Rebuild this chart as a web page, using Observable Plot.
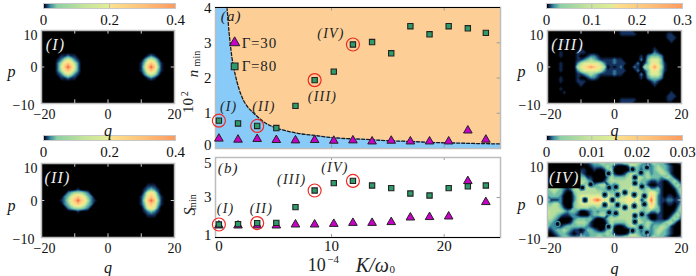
<!DOCTYPE html>
<html><head><meta charset="utf-8">
<script src="https://cdn.jsdelivr.net/npm/d3@7"></script>
<script src="https://cdn.jsdelivr.net/npm/@observablehq/plot@0.6"></script>
<style>html,body{margin:0;padding:0;background:#fff}#c{position:relative;width:696px;height:276px;overflow:hidden}
#c svg{position:absolute;overflow:visible}</style></head><body><div id="c"></div>
<script>
const K = [0,1.7,3.4,5.1,6.8,8.5,10.2,11.9,13.6,15.3,17,18.7,20.4,22.1,23.7];
const nSquare = [.79,.71,.64,.58,1.21,1.94,2.18,2.95,3.02,2.7,3.47,3.24,3.47,3.41,3.28];
const nTriangle = [.28,.25,.27,.24,.23,.24,.22,.23,.2,.22,.2,.2,.2,.51,.25];
const sSquare = [1.65,1.67,1.72,1.73,2.52,3.35,3.72,3.83,3.6,3.47,3.2,3.1,3.47,3.56,3.6];
const sTriangle = [1.6,1.6,1.6,1.6,1.65,1.65,1.68,1.73,1.73,1.77,2.0,2.02,2.05,3.82,2.77];
const circled = [0,2,5,7];
const curveK = [.72,.8,.9,1,1.15,1.33,1.6,2,2.5,3,3.5,4,5.1,6,7,8.5,10,11.4,13,15,17,19,21,23,25];
const curveN = [4,3.7,3.3,3,2.6,2.28,1.9,1.5,1.2,1.03,.88,.75,.58,.5,.43,.37,.31,.28,.26,.22,.2,.17,.155,.14,.13];

const levelColors = ["#000000","#14305e","#3a8ca0","#7fc9a8","#b5dd9e","#e2ee95","#fde08c","#fdc27a","#fd9a5f","#ee4a32"];
const barDomain = [0,.02,.05,.1,.3,.49,.51,.75,1];
const barColors = ["#000000","#14305e","#3a8ca0","#8ccfa6","#c4e39b","#e2ee95","#fde08c","#fdc27a","#fd9a5f"];
const contourSteps = d3.range(.2, 9.5, .2);

const gridI = [
"0","0","0","0","0","0","0",
"0000 001121100 0000000000000000 000121",
"0000 012454210 0000000000000000 002454200",
"0000 024676420 0000000000000000 013676310",
"0000 025797520 0000000000000000 014797410",
"0000 024676420 0000000000000000 013676310",
"0000 012454210 0000000000000000 002454200",
"0000 001121100 0000000000000000 000121",
"0","0","0","0","0","0","0"];
const gridII = [
"0","0","0","0","0","0",
"000000 00000000000 000000000000 000111",
"000000 00000100000 000000000000 001232100",
"000000 00234443200 000000000000 002565200",
"000000 02356765320 000000000000 013676310",
"000000 12467976421 000000000000 014797410",
"000000 02356765320 000000000000 013676310",
"000000 00234443200 000000000000 002565200",
"000000 00000100000 000000000000 001232100",
"000000 00000000000 000000000000 000111",
"0","0","0","0","0","0"];
const gridIII = [
"0000000000 0000000000 0011110000 0000000000 0",
"0000000000 0000000000 0011111000 0000001100 0",
"0000000000 0000000000 0000000000 0000001110 0",
"0000010000 0000000000 0000000000 0000000100 0",
"0000100000 0000000000 0000000000 0000000000 0",
"0000000000 1000000000 0000000000 0010000000 0",
"0000100001 1100000000 0000000000 0021000000 0",
"0000100001 0012210000 0000000010 2333200000 0",
"0000000001 1234321111 2110000020 3555300000 0",
"0000100002 4555554211 2111000201 3565310000 0",
"0000100004 5678765401 0120002104 4686410000 0",
"0000100002 4555554211 2111000201 3565310000 0",
"0000000001 1234321111 2110000020 3555300000 0",
"0000100001 0012210000 0000000010 2333200000 0",
"0000100001 1100000000 0000000000 0121000000 0",
"0000000000 1000000000 0000000000 0010000000 0",
"0000100000 0000000000 0000000000 0000000000 0",
"0000010000 0000000000 0000000000 0000000100 0",
"0000000000 0000000000 0000000000 0000001110 0",
"0000000000 0000000000 0011111000 0000001100 0",
"0000000000 0000000000 0011110000 0000000000 0"];
const gridIV = [
"0000000000 0112334434 3334444432 1343321001 2",
"0000000000 0001222343 1000144323 1234332100 0",
"0000000000 1100100134 0000012313 3234432100 0",
"0000000000 2100000034 1001344313 4233443100 0",
"0000000000 3311000024 3333441443 4333234310 0",
"0000000000 4432000134 4444442433 2112101342 0",
"0000000000 4340234413 1344444413 1001100134 2",
"3444321244 1444433313 1344454433 4223100013 4",
"3343310034 4444444343 3441445443 4653100002 4",
"2333200024 5555555154 4144551541 4752101101 3",
"2111200024 5256897552 4455665513 5952112211 2",
"3344200034 5555555154 4144551541 4752101101 3",
"4444310034 4443343343 3341444443 4643100002 4",
"5444432332 0012323333 3444444433 4223100013 4",
"5443211221 0002334413 1344444413 1001100134 2",
"4432000023 3333100134 4444441433 2001101343 1",
"3320000134 4431000024 3333441443 4322234420 0",
"3221123333 3321000024 1001344313 4233443100 0",
"1123343211 0133210134 0000012313 3234432100 0",
"0012332101 1223333343 1000144323 1234332100 0",
"0001233222 3323344334 3334444432 1343321001 2"];
// dark zeros of panel IV, read as q and p
const holeQ = [-8.8,-2.9,-2.9,-0.6,-1.6,0.4,0.9,0.9,-1.6,0.4,3.1,5.9,3.1,5.9,6.1,6.1,8.2,8.2,6.1,6.1,5.4,7.9,9.7,-7.1,-9.6,-17,7.9,5.4,9.7,-1.8,-1.8,8.9,8.9];
const holeP = [0,1.4,-1.3,0,3.3,3.5,1.4,-1.3,-3.3,-3.5,2,1.4,-2,-1.6,6,4.5,3.6,-3.8,-4.2,-5.8,8.2,7.3,8.7,4.2,3.3,-6.4,-7.3,-8.2,-8.7,7.1,-7.1,1.1,-1.1];

const font = "'Liberation Serif', serif";
const baseStyle = {fontFamily: font, background: "transparent", color: "#111", overflow: "visible"};
const axisFont = {fontFamily: font, fontVariant: "normal", fontSize: 14, label: null, tickSize: 0};
const frameGray = "#bdbdbd";
const tfmt = d => String(d).replace("-", "\u2212");
const c = document.getElementById("c");
function put(svg, left, top) { svg.style.left = left + "px"; svg.style.top = top + "px"; c.appendChild(svg); }
function parseGrid(rows) {
  return rows.flatMap(r => Array.from(r.replace(/\s/g, "").padEnd(41, "0").slice(0, 41)).map(Number));
}
function heat(o) {
  const W = o.x1 - o.x0, H = o.y1 - o.y0, ml = 41, mr = 18, mt = 10, mb = 38;
  const holes = o.holes ? holeQ.map((q, i) => ({q, p: holeP[i]})) : [];
  const marks = [
    Plot.frame({fill: "#000", stroke: null}),
    Plot.contour(parseGrid(o.grid), {width: 41, height: 21, x1: -20.5, x2: 20.5, y1: 10.5, y2: -10.5, clip: true,
      fill: Plot.identity, stroke: null, thresholds: contourSteps}),
    Plot.dot(holes, {x: "q", y: "p", r: 3.2, fill: "#3a8ca0", ariaLabel: "holes"}),
    Plot.dot(holes, {x: "q", y: "p", r: 1.9, fill: "#050d1c", ariaLabel: "holes"}),
    ...(o.box ? [Plot.rect([{a: -20, b: -10, c: 3, d: 10}], {x1: "a", x2: "b", y1: "c", y2: "d", fill: "#000"})] : []),
    Plot.ruleX([-10, 0, 10], {y1: -10, y2: -9, stroke: "#ccc"}),
    Plot.ruleX([-10, 0, 10], {y1: 9, y2: 10, stroke: "#ccc"}),
    Plot.ruleY([0], {x1: -20, x2: -19, stroke: "#ccc"}),
    Plot.ruleY([0], {x1: 19, x2: 20, stroke: "#ccc"}),
    Plot.frame({stroke: frameGray, strokeWidth: 1.5}),
    Plot.axisX([-20], {...axisFont, tickPadding: o.xpad, tickFormat: tfmt, dx: 3}),
    Plot.axisX([0, 20], {...axisFont, tickPadding: o.xpad, tickFormat: tfmt}),
    Plot.axisY([10], {...axisFont, tickPadding: 4, tickFormat: tfmt, dy: 5}),
    Plot.axisY([0], {...axisFont, tickPadding: 4, tickFormat: tfmt, dy: o.p0dy}),
    Plot.axisY([-10], {...axisFont, tickPadding: 7, tickFormat: tfmt, dy: 2}),
    Plot.text([{x: 0, y: -10, t: "q"}], {x: "x", y: "y", text: "t", dy: o.qdy, fontStyle: "italic", fontSize: 16, fill: "#111"}),
    Plot.text([{x: -20, y: 0, t: "p"}], {x: "x", y: "y", text: "t", dx: o.pdx, dy: 5, fontStyle: "italic", fontSize: 16, fill: "#111"}),
    Plot.text([{x: o.lq, y: 6, t: o.label}], {x: "x", y: "y", text: "t", fontStyle: "italic", fontSize: 16, fill: "#eee"})
  ];
  put(Plot.plot({width: W + ml + mr, height: H + mt + mb, marginLeft: ml, marginRight: mr, marginTop: mt, marginBottom: mb,
    x: {domain: [-20, 20], axis: null}, y: {domain: [-10, 10], axis: null},
    color: {type: "linear", domain: levelColors.map((_, i) => i), range: levelColors, clamp: true},
    style: baseStyle, marks}),
    o.x0 - ml, o.y0 - mt);
}
const rampValues = d3.range(0, 1, 1 / 260);
function bar(o) {
  const ml = 15, mr = 18, mt = 2, mb = 23, H = 5;
  put(Plot.plot({width: o.x1 - o.x0 + ml + mr, height: H + mt + mb, marginLeft: ml, marginRight: mr, marginTop: mt, marginBottom: mb,
    x: {domain: [0, o.max], axis: null}, y: {domain: [0, 1], axis: null},
    color: {type: "linear", domain: barDomain, range: barColors, clamp: true}, style: baseStyle,
    marks: [
      Plot.raster(rampValues, {width: 260, height: 1, x1: 0, x2: o.max, y1: 0, y2: 1}),
      Plot.ruleX(o.ticks.slice(1, -1), {stroke: "#bbb"}),
      Plot.frame({stroke: "#c8c8c8", strokeWidth: 1}),
      Plot.axisX(o.ticks, {...axisFont, fontSize: 15, tickPadding: 6, tickFormat: d => String(d)})
    ]}), o.x0 - ml, o.y0 - mt);
}
bar({x0: 43, x1: 175, y0: 3, max: .4, ticks: [0, .2, .4]});
bar({x0: 43, x1: 175, y0: 135, max: .4, ticks: [0, .2, .4]});
bar({x0: 546, x1: 682, y0: 3, max: .3, ticks: [0, .1, .2, .3]});
bar({x0: 546, x1: 682, y0: 135, max: .03, ticks: [0, .01, .02, .03]});
heat({grid: gridI, x0: 41, x1: 174, y0: 30, y1: 103, xpad: 6, qdy: 27, pdx: -30, p0dy: 1, label: "(I)", lq: -15.8});
heat({grid: gridII, x0: 41, x1: 174, y0: 163, y1: 237, xpad: 6, qdy: 30, pdx: -30, p0dy: 1, label: "(II)", lq: -15.2});
heat({grid: gridIII, x0: 547, x1: 681, y0: 30, y1: 103, xpad: 6, qdy: 27, pdx: -26, p0dy: 1, label: "(III)", lq: -14});
heat({grid: gridIV, holes: true, box: true, x0: 547, x1: 681, y0: 162, y1: 237, xpad: 6, qdy: 31, pdx: -26, p0dy: 1, label: "(IV)", lq: -15});

const ser = (ys) => K.map((k, i) => ({k, v: ys[i]}));
const curve = curveK.map((k, i) => ({k, n: curveN[i]}));
const tri = {symbol: "triangle", r: 3.2, fill: "#c800c8", stroke: "#222", strokeWidth: 1};
const sq = {symbol: "square", r: 3, fill: "#2e9c6a", stroke: "#222", strokeWidth: 1.1};
const lab = (x, y, t, extra = {}) => Plot.text([{x, y, t}], {x: "x", y: "y", text: "t", fontStyle: "italic", fontSize: 14, fill: "#222", ...extra});
const axY = (v, dy) => Plot.axisY([v], {...axisFont, fontSize: 15, tickPadding: 4, dy});
const ml = 215, mr = 10, W = 510;
// panel (a)
put(Plot.plot({width: W, height: 152, marginLeft: ml, marginRight: mr, marginTop: 7, marginBottom: 4,
  x: {domain: [-.3, 25], axis: null}, y: {domain: [0, 4], axis: null}, style: baseStyle,
  marks: [
    Plot.frame({fill: "#88caf8", stroke: null}),
    Plot.areaY(curve, {x: "k", y1: "n", y2: () => 4, fill: "#fdcf97", curve: "monotone-x"}),
    Plot.line(curve, {x: "k", y: "n", stroke: "#1a1a1a", strokeWidth: 1.3, strokeDasharray: "3,2", curve: "monotone-x"}),
    Plot.ruleX([10, 20], {y1: 0, y2: .1, stroke: "#999"}),
    Plot.ruleX([10, 20], {y1: 3.9, y2: 4, stroke: "#999"}),
    Plot.ruleY([1, 2, 3], {x1: 24.7, x2: 25, stroke: "#999"}),
    Plot.frame({stroke: frameGray, strokeWidth: 1.5}),
    Plot.ruleY([4], {stroke: "#000", strokeWidth: 1.2}),
    axY(4, 1), axY(3, 0), axY(2, 0), axY(1, 0), axY(0, -3),
    Plot.dot(ser(nTriangle), {x: "k", y: "v", ...tri}),
    Plot.dot(ser(nSquare), {x: "k", y: "v", ...sq}),
    Plot.dot(circled.map(i => ({k: K[i], v: nSquare[i]})), {x: "k", y: "v", r: 6.5, stroke: "#ee2a24", strokeWidth: 1.2}),
    Plot.dot([{k: 1.4, v: 3}], {x: "k", y: "v", ...tri, r: 3.8}),
    Plot.dot([{k: 1.4, v: 2.33}], {x: "k", y: "v", ...sq, r: 3.8}),
    lab(2.02, 2.98, "\u0393=30", {fontStyle: "normal", fontSize: 15, textAnchor: "start"}),
    lab(2.02, 2.33, "\u0393=80", {fontStyle: "normal", fontSize: 15, textAnchor: "start"}),
    lab(1.1, 3.74, "(a)", {fontSize: 15}),
    lab(.87, 1.19, "(I)"), lab(4, 1.19, "(II)"), lab(9.2, 1.48, "(III)"), lab(9.95, 3.25, "(IV)"),
    lab(-.3, 2.13, "n", {rotate: -90, dx: -22, fontSize: 15}),
    lab(-.3, 2.55, "min", {rotate: -90, dx: -19, fontSize: 10, fontStyle: "normal"}),
    lab(-.3, 1.22, "10", {rotate: -90, dx: -27, fontSize: 15, fontStyle: "normal"}),
    lab(-.3, 1.55, "2", {rotate: -90, dx: -31, fontSize: 10, fontStyle: "normal"})
  ]}), 0, 0);
// panel (b)
put(Plot.plot({width: W, height: 120, marginLeft: ml, marginRight: mr, marginTop: 7, marginBottom: 33,
  x: {domain: [-.3, 25], axis: null}, y: {domain: [1, 5], axis: null}, style: baseStyle,
  marks: [
    Plot.ruleX([10, 20], {y1: 4.85, y2: 5, stroke: "#999"}),
    Plot.ruleX([10, 20], {y1: 1, y2: 1.15, stroke: "#999"}),
    Plot.ruleY([3], {x1: 24.7, x2: 25, stroke: "#999"}),
    Plot.frame({stroke: frameGray, strokeWidth: 1.5}),
    Plot.ruleY([1], {stroke: "#000", strokeWidth: 1.2}),
    axY(5, 6), axY(3, 0), axY(1, -2),
    Plot.axisX([0, 10, 20], {...axisFont, fontSize: 15, tickPadding: 3}),
    Plot.dot(ser(sTriangle), {x: "k", y: "v", ...tri}),
    Plot.dot(ser(sSquare), {x: "k", y: "v", ...sq}),
    Plot.dot(circled.map(i => ({k: K[i], v: sSquare[i]})), {x: "k", y: "v", r: 6.5, stroke: "#ee2a24", strokeWidth: 1.2}),
    lab(.83, 4.45, "(b)", {fontSize: 15}),
    lab(.6, 2.47, "(I)"), lab(3.77, 2.47, "(II)"), lab(6.47, 3.88, "(III)"), lab(10.3, 4.52, "(IV)"),
    lab(-.3, 2.3, "S", {rotate: -90, dx: -26, fontSize: 16}),
    lab(-.3, 2.77, "min", {rotate: -90, dx: -23, fontSize: 10, fontStyle: "normal"}),
    lab(8.68, 1, "10", {dy: 28, fontSize: 18, fontStyle: "normal"}),
    lab(10.15, 1, "\u22124", {dy: 22, fontSize: 11, fontStyle: "normal"}),
    lab(12.15, 1, "K/\u03c9", {dy: 28, fontSize: 20, textAnchor: "start"}),
    lab(15.4, 1, "0", {dy: 32, fontSize: 11, fontStyle: "normal"})
  ]}), 0, 150);
c.querySelectorAll("text").forEach(t => {
  if (/^\(/.test(t.textContent)) t.style.letterSpacing = "1.2px";
  if (/^\u0393/.test(t.textContent)) t.style.letterSpacing = "0.8px";
});
c.querySelectorAll('[aria-label="holes"]').forEach(g => { g.style.filter = "blur(0.6px)"; });
</script></body></html>
